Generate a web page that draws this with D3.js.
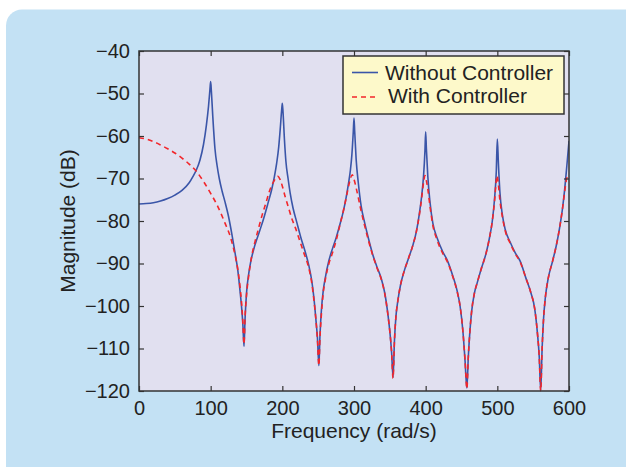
<!DOCTYPE html>
<html>
<head>
<meta charset="utf-8">
<script src="https://cdn.jsdelivr.net/npm/d3@7"></script>
<style>
  body { margin: 0; background: #fff; }
  svg { display: block; font-family: "Liberation Sans", Arial, Helvetica, sans-serif; }
</style>
</head>
<body>
<div id="chart"></div>
<script>
const width = 626, height = 467;

// axis ticks
const xTicks = [0, 100, 200, 300, 400, 500, 600];
const yTicks = [-120, -110, -100, -90, -80, -70, -60, -50, -40];
const seriesNames = ["Without Controller", "With Controller"];

// Without Controller
const blueFreq = [0, 10, 20, 30, 40, 50, 60, 70, 75, 80, 85, 90, 94, 97, 99, 100, 101, 103, 106, 109, 112, 116, 120, 125, 130, 134, 138, 141, 143, 145, 146.5, 148, 150, 153, 156, 160, 165, 170, 175, 180, 185, 189, 192, 195, 197, 199, 200, 201, 203, 205, 208, 211, 215, 220, 226, 232, 237, 241, 244, 247, 249, 251, 252.5, 254.5, 257, 260, 265, 270, 275, 280, 285, 289, 292, 295, 297, 299, 300, 301, 303, 306, 310, 315, 320, 326, 332, 338, 343, 347, 350, 352.5, 354.5, 356.5, 358.5, 361, 365, 370, 376, 382, 387, 391, 394.5, 397, 399, 400, 401, 403, 406, 410, 416, 424, 430, 438, 444, 448, 452, 455, 457.5, 459.5, 461.5, 464, 468, 472, 478, 484, 489, 493, 496, 498.5, 500, 501.5, 503.5, 507, 511, 518, 525, 532, 540, 547, 552, 556, 558.5, 560.5, 562.5, 564.5, 567, 571, 577, 582, 587, 591, 594, 597, 600];
const blueMag = [-76.0, -75.9, -75.7, -75.3, -74.7, -73.9, -72.8, -71.0, -69.6, -68.0, -65.7, -62.0, -57.5, -53.0, -49.0, -47.2, -49.5, -55.5, -63.0, -67.0, -70.0, -73.0, -75.5, -79.0, -83.5, -87.5, -91.8, -96.5, -100.0, -104.5, -109.5, -103.0, -97.0, -92.5, -89.5, -86.7, -84.0, -81.5, -78.8, -75.8, -72.7, -69.5, -66.5, -62.5, -58.5, -54.0, -52.3, -54.5, -61.0, -66.0, -70.0, -73.5, -77.0, -80.2, -84.0, -87.3, -90.5, -94.0, -98.0, -103.5, -107.5, -114.0, -107.0, -101.0, -96.5, -93.3, -89.3, -86.5, -84.0, -81.0, -77.8, -74.5, -71.5, -68.0, -64.5, -59.0, -55.8, -59.0, -65.5, -71.0, -76.5, -80.5, -84.0, -87.8, -90.8, -93.5, -97.0, -101.5, -106.0, -111.0, -116.8, -108.0, -102.5, -99.0, -95.0, -91.8, -88.8, -85.8, -82.5, -78.5, -74.0, -69.5, -63.5, -59.0, -63.0, -69.5, -75.5, -80.5, -84.0, -87.3, -89.2, -93.0, -96.5, -100.0, -106.0, -113.0, -119.3, -112.0, -106.5, -101.5, -97.0, -94.5, -91.0, -87.8, -84.0, -80.0, -75.0, -68.5, -60.7, -66.5, -73.0, -78.5, -82.0, -85.0, -87.5, -89.5, -93.5, -97.0, -100.5, -106.5, -112.0, -119.8, -110.0, -103.0, -98.0, -93.5, -89.5, -86.0, -81.5, -77.0, -72.5, -67.0, -61.2];

// With Controller
const redFreq = [0, 10, 20, 30, 40, 50, 60, 70, 80, 90, 100, 110, 120, 128, 134, 138, 141, 143, 145, 146.5, 148, 150, 153, 157, 162, 167, 172, 177, 182, 187, 191, 194, 197, 200, 204, 208, 213, 218, 224, 230, 236, 241, 244, 247, 249, 251, 252.5, 254.5, 257, 260, 265, 270, 276, 281, 286, 290, 294, 297.5, 300, 303, 306, 310, 315, 320, 326, 332, 338, 343, 347, 350, 352.5, 354.5, 356.5, 358.5, 361, 365, 370, 376, 382, 387, 391, 394.5, 397, 399, 401, 403, 406, 410, 416, 424, 430, 438, 444, 448, 452, 455, 457.5, 459.5, 461.5, 464, 468, 472, 478, 484, 489, 493, 496, 498.5, 499.5, 501.5, 503.5, 507, 511, 518, 525, 532, 540, 547, 552, 556, 558.5, 560.5, 562.5, 564.5, 567, 571, 577, 582, 587, 591, 594, 596.5, 598, 600];
const redMag = [-60.4, -60.7, -61.3, -62.1, -63.0, -64.0, -65.2, -66.6, -68.3, -70.7, -73.5, -76.6, -80.5, -84.0, -88.0, -91.5, -95.5, -99.0, -104.0, -109.0, -102.5, -97.5, -93.0, -88.5, -84.8, -81.6, -78.5, -75.8, -73.0, -71.0, -69.9, -69.5, -70.3, -71.8, -74.3, -76.5, -79.3, -81.5, -84.5, -87.5, -90.5, -94.5, -98.5, -103.5, -108.0, -114.0, -107.5, -102.0, -97.0, -93.8, -90.0, -87.5, -84.0, -80.5, -77.0, -73.8, -70.7, -69.1, -70.2, -72.2, -74.5, -77.7, -81.2, -84.5, -88.0, -91.0, -93.7, -97.2, -101.7, -106.0, -111.0, -117.0, -108.0, -102.5, -99.0, -95.0, -91.8, -88.8, -85.8, -82.5, -78.8, -74.5, -71.0, -69.3, -70.5, -72.5, -76.5, -81.0, -84.5, -87.7, -89.5, -93.2, -96.7, -100.0, -106.0, -113.0, -119.5, -112.0, -106.5, -101.5, -97.0, -94.5, -91.0, -87.8, -84.0, -80.0, -75.5, -70.5, -69.3, -71.5, -75.0, -79.0, -82.3, -85.3, -87.7, -89.7, -93.5, -97.0, -100.5, -106.5, -112.0, -120.0, -110.0, -103.0, -98.0, -93.5, -89.5, -86.0, -81.5, -77.0, -73.0, -70.2, -69.6, -70.0];

const plot = { left: 139, right: 569, top: 51, bottom: 391 };

const svg = d3.select("#chart").append("svg")
    .attr("width", width)
    .attr("height", height);

// light blue panel behind everything
svg.append("rect")
    .attr("x", 6).attr("y", 9.5)
    .attr("width", width + 40).attr("height", height + 40)
    .attr("rx", 16)
    .attr("fill", "#c3e1f4");

const x = d3.scaleLinear().domain([0, 600]).range([plot.left, plot.right]);
const y = d3.scaleLinear().domain([-120, -40]).range([plot.bottom, plot.top]);

svg.append("rect")
    .attr("x", plot.left).attr("y", plot.top)
    .attr("width", plot.right - plot.left).attr("height", plot.bottom - plot.top)
    .attr("fill", "#e1e0f0");

svg.append("clipPath").attr("id", "clip")
  .append("rect")
    .attr("x", plot.left).attr("y", plot.top - 1)
    .attr("width", plot.right - plot.left).attr("height", plot.bottom - plot.top + 2);

const line = d3.line()
    .x(d => x(d[0]))
    .y(d => y(d[1]))
    .curve(d3.curveMonotoneX);

const blueData = blueFreq.map((f, i) => [f, blueMag[i]]);
const redData = redFreq.map((f, i) => [f, redMag[i]]);

const lines = svg.append("g").attr("clip-path", "url(#clip)");
lines.append("path")
    .datum(blueData)
    .attr("d", line)
    .attr("fill", "none")
    .attr("stroke", "#3a55a8")
    .attr("stroke-width", 1.6);
lines.append("path")
    .datum(redData)
    .attr("d", line)
    .attr("fill", "none")
    .attr("stroke", "#f2262b")
    .attr("stroke-width", 1.6)
    .attr("stroke-dasharray", "5,4");

// axes, ticks pointing inward (box style)
function styleAxis(g) {
    g.select(".domain").remove();
    g.selectAll(".tick line").attr("stroke", "#333").attr("stroke-width", 1.2);
    g.selectAll(".tick text").attr("fill", "#222").style("font-size", "20px");
}

svg.append("g")
    .attr("transform", `translate(0,${plot.bottom})`)
    .call(d3.axisBottom(x).tickValues(xTicks).tickSizeInner(-5).tickSizeOuter(0).tickPadding(10).tickFormat(d3.format("d")))
    .call(styleAxis);
svg.append("g")
    .attr("transform", `translate(0,${plot.top})`)
    .call(d3.axisTop(x).tickValues(xTicks).tickSizeInner(-5).tickSizeOuter(0).tickFormat(""))
    .call(styleAxis);
svg.append("g")
    .attr("transform", `translate(${plot.left},0)`)
    .call(d3.axisLeft(y).tickValues(yTicks).tickSizeInner(-5).tickSizeOuter(0).tickPadding(9).tickFormat(d3.format("d")))
    .call(styleAxis);
svg.append("g")
    .attr("transform", `translate(${plot.right},0)`)
    .call(d3.axisRight(y).tickValues(yTicks).tickSizeInner(-5).tickSizeOuter(0).tickFormat(""))
    .call(styleAxis);

// frame
svg.append("rect")
    .attr("x", plot.left).attr("y", plot.top)
    .attr("width", plot.right - plot.left).attr("height", plot.bottom - plot.top)
    .attr("fill", "none")
    .attr("stroke", "#333")
    .attr("stroke-width", 1.5);

// axis titles
svg.append("text")
    .attr("x", (plot.left + plot.right) / 2)
    .attr("y", 438)
    .attr("text-anchor", "middle")
    .attr("fill", "#222")
    .style("font-size", "21px")
    .text("Frequency (rad/s)");

svg.append("text")
    .attr("transform", `translate(75,${(plot.top + plot.bottom) / 2}) rotate(-90)`)
    .attr("text-anchor", "middle")
    .attr("fill", "#222")
    .style("font-size", "21px")
    .text("Magnitude (dB)");

// legend
const legend = svg.append("g");
legend.append("rect")
    .attr("x", 343).attr("y", 56)
    .attr("width", 221).attr("height", 58)
    .attr("fill", "#fdf9ca")
    .attr("stroke", "#333")
    .attr("stroke-width", 1.5);
legend.append("line")
    .attr("x1", 352).attr("x2", 378).attr("y1", 72.5).attr("y2", 72.5)
    .attr("stroke", "#3a55a8").attr("stroke-width", 1.6);
legend.append("line")
    .attr("x1", 352).attr("x2", 378).attr("y1", 97).attr("y2", 97)
    .attr("stroke", "#f2262b").attr("stroke-width", 1.6)
    .attr("stroke-dasharray", "5,4");
legend.append("text")
    .attr("x", 385).attr("y", 80)
    .attr("fill", "#222").style("font-size", "21px")
    .text(seriesNames[0]);
legend.append("text")
    .attr("x", 388).attr("y", 103)
    .attr("fill", "#222").style("font-size", "21px")
    .text(seriesNames[1]);
</script>
</body>
</html>
